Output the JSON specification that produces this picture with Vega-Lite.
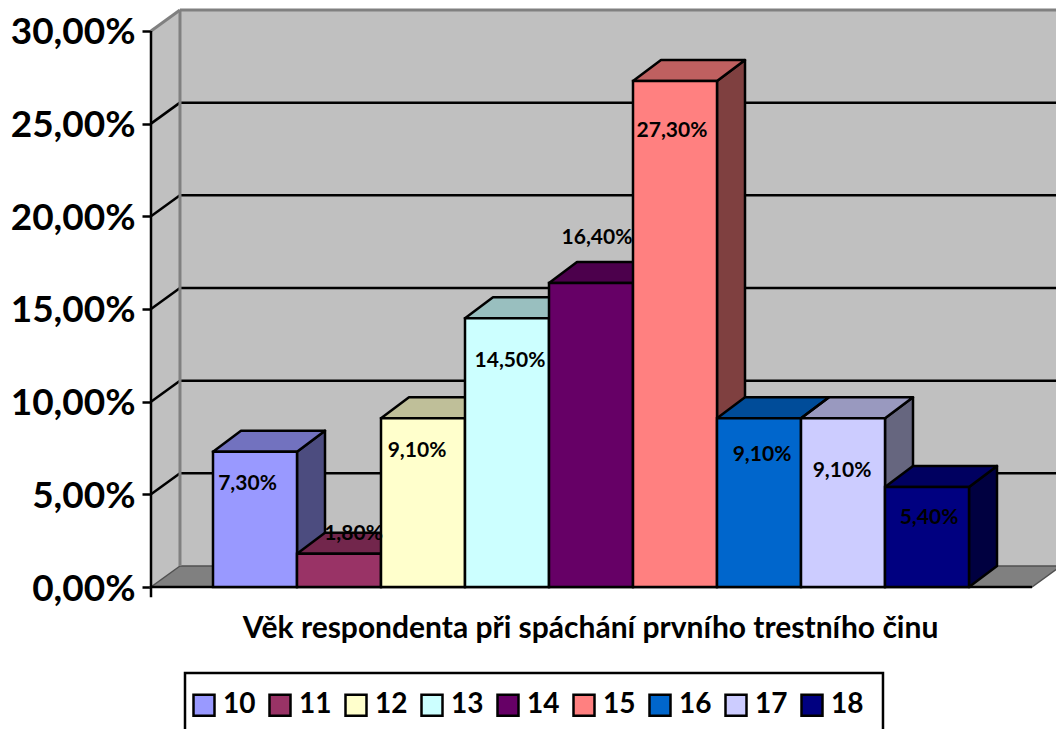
{
  "$schema": "https://vega.github.io/schema/vega-lite/v6.json",
  "width": 905,
  "height": 587,
  "autosize": "none",
  "padding": {"left": 151, "top": 0, "right": 0, "bottom": 142},
  "background": "white",
  "datasets": {
    "ages": [
      {"age": 10, "share": 7.3},
      {"age": 11, "share": 1.8},
      {"age": 12, "share": 9.1},
      {"age": 13, "share": 14.5},
      {"age": 14, "share": 16.4},
      {"age": 15, "share": 27.3},
      {"age": 16, "share": 9.1},
      {"age": 17, "share": 9.1},
      {"age": 18, "share": 5.4}
    ],
    "corners": [{"corner": 0}, {"corner": 1}],
    "grid": [{"v": 5}, {"v": 10}, {"v": 15}, {"v": 20}, {"v": 25}],
    "one": [{"o": 1}]
  },
  "data": {"name": "ages"},
  "config": {
    "view": {"stroke": null},
    "font": "Lato",
    "legend": {
      "orient": "none",
      "legendX": 34,
      "legendY": 673,
      "direction": "horizontal",
      "columns": 9,
      "padding": 5,
      "symbolType": "square",
      "symbolSize": 441,
      "symbolStrokeColor": "black",
      "symbolStrokeWidth": 2.5,
      "labelFont": "Lato",
      "labelFontSize": 28,
      "labelFontWeight": "bold",
      "labelColor": "black",
      "labelOffset": 5,
      "columnPadding": 8,
      "titleFontSize": 13,
      "titlePadding": 0
    }
  },
  "layer": [
    {
      "data": {"name": "one"},
      "mark": {"type": "rect", "fill": "#c0c0c0"},
      "encoding": {
        "x": {"datum": 9.607, "type": "quantitative", "scale": {"domain": [9.2619, 20.0357], "nice": false, "zero": false}, "axis": {"title": "Věk respondenta při spáchání prvního trestního činu", "domain": false, "ticks": false, "labels": false, "grid": false, "titleFont": "Lato", "titleFontSize": 30, "titleFontWeight": "bold", "titleColor": "black", "titleX": 439, "titleY": 41, "titleBaseline": "middle"}},
        "x2": {"datum": 21},
        "y": {"datum": 1.133, "type": "quantitative", "scale": {"domain": [0, 31.67], "nice": false}, "axis": {"title": null, "values": [0, 5, 10, 15, 20, 25, 30], "domain": false, "grid": false, "tickColor": "black", "tickSize": 9, "tickWidth": 2.5, "labelFont": "Lato", "labelFontSize": 37, "labelFontWeight": "bold", "labelColor": "black", "labelPadding": 7, "labelOffset": 2, "labelExpr": "replace(format(datum.value,'.2f'),'.',',')+'%'"}},
        "y2": {"datum": 31.133}
      }
    },
    {
      "data": {"name": "one"},
      "mark": {"type": "rect", "fill": "white", "stroke": "black", "strokeWidth": 2.5},
      "encoding": {
        "x": {"datum": 9.6667, "type": "quantitative"},
        "x2": {"datum": 17.976},
        "y": {"datum": -4.64, "type": "quantitative"},
        "y2": {"datum": -9}
      }
    },
    {
      "data": {"name": "corners"},
      "transform": [
        {"calculate": "9.2619+datum.corner*0.345", "as": "xp"},
        {"calculate": "30+datum.corner*1.133", "as": "top"},
        {"calculate": "datum.corner*1.133", "as": "base"}
      ],
      "mark": {"type": "area", "fill": "#c0c0c0", "orient": "vertical"},
      "encoding": {
        "x": {"field": "xp", "type": "quantitative"},
        "y": {"field": "top", "type": "quantitative", "stack": null},
        "y2": {"field": "base"}
      }
    },
    {
      "data": {"name": "corners"},
      "transform": [
        {"calculate": "9.2619+datum.corner*0.345", "as": "xl"},
        {"calculate": "19.75+datum.corner*0.345", "as": "xr"},
        {"calculate": "datum.corner*1.133", "as": "yp"}
      ],
      "mark": {"type": "area", "fill": "#808080", "stroke": "#505050", "strokeWidth": 1.5, "orient": "horizontal"},
      "encoding": {
        "y": {"field": "yp", "type": "quantitative", "stack": null},
        "x": {"field": "xl", "type": "quantitative", "stack": null},
        "x2": {"field": "xr"}
      }
    },
    {
      "data": {"name": "grid"},
      "transform": [{"calculate": "datum.v+1.133", "as": "back"}],
      "mark": {"type": "rule", "color": "black", "strokeWidth": 2.5},
      "encoding": {
        "x": {"datum": 9.607, "type": "quantitative"},
        "x2": {"datum": 21},
        "y": {"field": "back", "type": "quantitative"}
      }
    },
    {
      "data": {"name": "grid"},
      "transform": [{"calculate": "datum.v+1.133", "as": "back"}],
      "mark": {"type": "rule", "color": "black", "strokeWidth": 2.5},
      "encoding": {
        "x": {"datum": 9.2619, "type": "quantitative"},
        "x2": {"datum": 9.607},
        "y": {"field": "v", "type": "quantitative"},
        "y2": {"field": "back"}
      }
    },
    {
      "data": {"name": "one"},
      "mark": {"type": "rule", "color": "#808080", "strokeWidth": 3},
      "encoding": {
        "x": {"datum": 9.607, "type": "quantitative"},
        "y": {"datum": 1.133, "type": "quantitative"},
        "y2": {"datum": 31.133}
      }
    },
    {
      "data": {"name": "one"},
      "mark": {"type": "rule", "color": "#808080", "strokeWidth": 3},
      "encoding": {
        "x": {"datum": 9.607, "type": "quantitative"},
        "x2": {"datum": 21},
        "y": {"datum": 31.133, "type": "quantitative"}
      }
    },
    {
      "data": {"name": "one"},
      "mark": {"type": "rule", "color": "#808080", "strokeWidth": 3},
      "encoding": {
        "x": {"datum": 9.2619, "type": "quantitative"},
        "x2": {"datum": 9.607},
        "y": {"datum": 30, "type": "quantitative"},
        "y2": {"datum": 31.133}
      }
    },
    {
      "data": {"name": "one"},
      "mark": {"type": "rule", "color": "black", "strokeWidth": 2.5},
      "encoding": {
        "x": {"datum": 9.2619, "type": "quantitative"},
        "y": {"datum": -0.55, "type": "quantitative"},
        "y2": {"datum": 30}
      }
    },
    {
      "data": {"name": "one"},
      "mark": {"type": "rule", "color": "black", "strokeWidth": 2.5},
      "encoding": {
        "x": {"datum": 9.2619, "type": "quantitative"},
        "x2": {"datum": 19.75},
        "y": {"datum": 0, "type": "quantitative"}
      }
    },
    {
      "transform": [
        {"calculate": "[0,1]", "as": "corner"},
        {"flatten": ["corner"]},
        {"calculate": "datum.age+1+datum.corner/3", "as": "xp"},
        {"calculate": "datum.share+datum.corner*1.133", "as": "top"},
        {"calculate": "datum.corner*1.133", "as": "base"}
      ],
      "mark": {"type": "area", "orient": "vertical"},
      "encoding": {
        "x": {"field": "xp", "type": "quantitative"},
        "y": {"field": "top", "type": "quantitative", "stack": null},
        "y2": {"field": "base"},
        "color": {"field": "age", "type": "nominal", "legend": {"title": " "}, "scale": {"domain": [10, 11, 12, 13, 14, 15, 16, 17, 18], "range": ["#9999FF", "#993366", "#FFFFCC", "#CCFFFF", "#660066", "#FF8080", "#0066CC", "#CCCCFF", "#000080"]}}
      }
    },
    {
      "transform": [
        {"calculate": "[0,1]", "as": "corner"},
        {"flatten": ["corner"]},
        {"calculate": "datum.age+1+datum.corner/3", "as": "xp"},
        {"calculate": "datum.share+datum.corner*1.133", "as": "top"},
        {"calculate": "datum.corner*1.133", "as": "base"}
      ],
      "mark": {"type": "area", "orient": "vertical", "fill": "black", "fillOpacity": 0.5, "stroke": "black", "strokeWidth": 2.5, "strokeJoin": "round"},
      "encoding": {
        "x": {"field": "xp", "type": "quantitative"},
        "y": {"field": "top", "type": "quantitative", "stack": null},
        "y2": {"field": "base"},
        "detail": {"field": "age", "type": "nominal"}
      }
    },
    {
      "transform": [
        {"calculate": "[0,1]", "as": "corner"},
        {"flatten": ["corner"]},
        {"calculate": "datum.age+datum.corner/3", "as": "xl"},
        {"calculate": "datum.age+1+datum.corner/3", "as": "xr"},
        {"calculate": "datum.share+datum.corner*1.133", "as": "yp"}
      ],
      "mark": {"type": "area", "orient": "horizontal"},
      "encoding": {
        "y": {"field": "yp", "type": "quantitative", "stack": null},
        "x": {"field": "xl", "type": "quantitative", "stack": null},
        "x2": {"field": "xr"},
        "color": {"field": "age", "type": "nominal", "legend": {"title": " "}}
      }
    },
    {
      "transform": [
        {"calculate": "[0,1]", "as": "corner"},
        {"flatten": ["corner"]},
        {"calculate": "datum.age+datum.corner/3", "as": "xl"},
        {"calculate": "datum.age+1+datum.corner/3", "as": "xr"},
        {"calculate": "datum.share+datum.corner*1.133", "as": "yp"}
      ],
      "mark": {"type": "area", "orient": "horizontal", "fill": "black", "fillOpacity": 0.25, "stroke": "black", "strokeWidth": 2.5, "strokeJoin": "round"},
      "encoding": {
        "y": {"field": "yp", "type": "quantitative", "stack": null},
        "x": {"field": "xl", "type": "quantitative", "stack": null},
        "x2": {"field": "xr"},
        "detail": {"field": "age", "type": "nominal"}
      }
    },
    {
      "transform": [{"calculate": "datum.age+1", "as": "ageEnd"}],
      "mark": {"type": "rect", "stroke": "black", "strokeWidth": 2.5},
      "encoding": {
        "x": {"field": "age", "type": "quantitative"},
        "x2": {"field": "ageEnd"},
        "y": {"field": "share", "type": "quantitative"},
        "y2": {"datum": 0},
        "color": {"field": "age", "type": "nominal", "legend": {"title": " "}}
      }
    },
    {
      "layer": [
        {"transform": [{"filter": "datum.age==10"}], "mark": {"type": "text", "dx": -7.5, "dy": 32, "font": "Lato", "fontSize": 21, "fontWeight": "bold", "color": "black", "baseline": "middle"}},
        {"transform": [{"filter": "datum.age==11"}], "mark": {"type": "text", "dx": 14.5, "dy": -20, "font": "Lato", "fontSize": 21, "fontWeight": "bold", "color": "black", "baseline": "middle"}},
        {"transform": [{"filter": "datum.age==12"}], "mark": {"type": "text", "dx": -6, "dy": 33, "font": "Lato", "fontSize": 21, "fontWeight": "bold", "color": "black", "baseline": "middle"}},
        {"transform": [{"filter": "datum.age==13"}], "mark": {"type": "text", "dx": 3, "dy": 43, "font": "Lato", "fontSize": 21, "fontWeight": "bold", "color": "black", "baseline": "middle"}},
        {"transform": [{"filter": "datum.age==14"}], "mark": {"type": "text", "dx": 6, "dy": -45, "font": "Lato", "fontSize": 21, "fontWeight": "bold", "color": "black", "baseline": "middle"}},
        {"transform": [{"filter": "datum.age==15"}], "mark": {"type": "text", "dx": -3, "dy": 50, "font": "Lato", "fontSize": 21, "fontWeight": "bold", "color": "black", "baseline": "middle"}},
        {"transform": [{"filter": "datum.age==16"}], "mark": {"type": "text", "dx": 3, "dy": 37, "font": "Lato", "fontSize": 21, "fontWeight": "bold", "color": "black", "baseline": "middle"}},
        {"transform": [{"filter": "datum.age==17"}], "mark": {"type": "text", "dx": -1, "dy": 53, "font": "Lato", "fontSize": 21, "fontWeight": "bold", "color": "black", "baseline": "middle"}},
        {"transform": [{"filter": "datum.age==18"}], "mark": {"type": "text", "dx": 2, "dy": 31, "font": "Lato", "fontSize": 21, "fontWeight": "bold", "color": "black", "baseline": "middle"}}
      ],
      "transform": [
        {"calculate": "datum.age+0.5", "as": "mid"},
        {"calculate": "replace(format(datum.share,'.2f'),'.',',')+'%'", "as": "label"}
      ],
      "encoding": {
        "x": {"field": "mid", "type": "quantitative"},
        "y": {"field": "share", "type": "quantitative"},
        "text": {"field": "label", "type": "nominal"}
      }
    }
  ]
}
